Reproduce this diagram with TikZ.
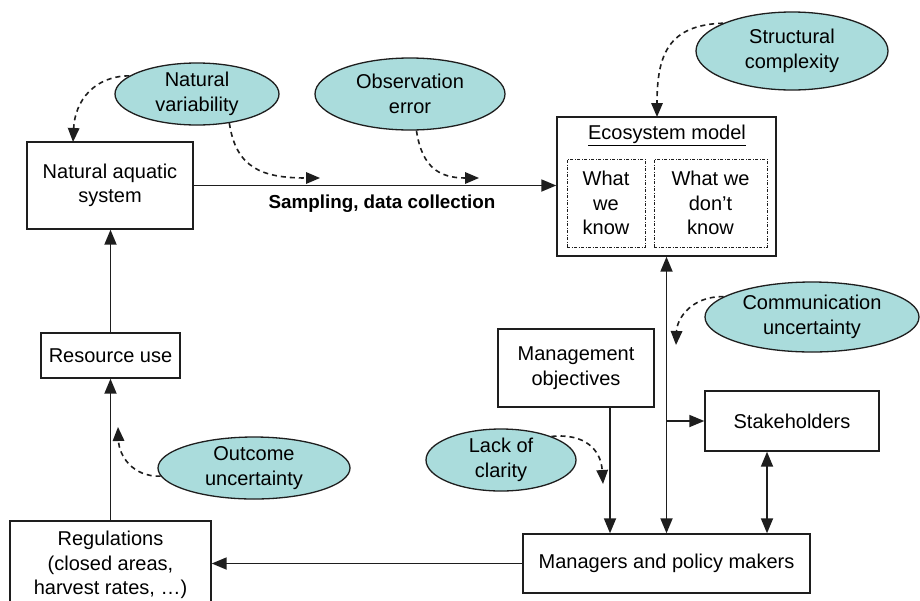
\documentclass[tikz,border=0pt]{standalone}
\usepackage{fontspec}
\setmainfont{Liberation Sans}
\usetikzlibrary{arrows.meta,shapes.geometric}
\definecolor{teal}{RGB}{170,220,220}
\definecolor{ln}{RGB}{30,30,30}
\tikzset{
  every node/.style={font=\fontsize{20}{24.5}\selectfont, text=black},
  boxnode/.style={draw=ln, line width=1.4pt, rectangle, inner sep=0pt, align=center},
  unc/.style={draw=ln, line width=1.3pt, fill=teal, ellipse, inner sep=0pt, align=center},
  inner/.style={draw=ln, line width=1pt, dash pattern=on 3pt off 1.5pt on 1pt off 1.5pt, rectangle, inner sep=0pt, align=center},
  conn/.style={draw=ln, line width=1.8pt, -{Triangle[length=15pt,width=12pt]}},
  dconn/.style={draw=ln, line width=1.8pt, {Triangle[length=15pt,width=12pt]}-{Triangle[length=15pt,width=12pt]}},
  dsh/.style={draw=ln, line width=1.6pt, dash pattern=on 5pt off 4pt, -{Triangle[length=14pt,width=11.5pt]}}
}
\begin{document}
\begin{tikzpicture}[x=1pt,y=-1pt]
\clip (0,0) rectangle (920,600);
\fill[white] (0,0) rectangle (920,600);
% boxes
\node[boxnode, minimum width=166pt, minimum height=87pt] (nas) at (110,185.5) {Natural aquatic\\system};
\node[boxnode, minimum width=139pt, minimum height=45pt] (ru) at (110.5,355.5) {Resource use};
\node[boxnode, minimum width=201pt, minimum height=88pt] (rg) at (110.5,565) {Regulations\\(closed areas,\\harvest rates, \dots)};
\node[boxnode, minimum width=219pt, minimum height=139pt] (em) at (666.5,186.5) {};
\node (emt) at (667,135) {\underline{Ecosystem model}};
\node[inner, minimum width=78pt, minimum height=88pt] (wk) at (606,203) {What\\we\\know};
\node[inner, minimum width=113pt, minimum height=88pt] (wdk) at (710.5,203) {What we\\don’t\\know};
\node[boxnode, minimum width=156pt, minimum height=78pt] (mo) at (576,368) {Management\\objectives};
\node[boxnode, minimum width=174pt, minimum height=60pt] (sh) at (792,421) {Stakeholders};
\node[boxnode, minimum width=287pt, minimum height=59pt] (mp) at (666.5,563.5) {Managers and policy makers};
% uncertainty ellipses
\node[unc, minimum width=164pt, minimum height=62pt] (nv) at (197,94) {Natural\\variability};
\node[unc, minimum width=190pt, minimum height=72pt] (oe) at (410,94) {Observation\\error};
\node[unc, minimum width=192pt, minimum height=78pt] (sc) at (792,51) {Structural\\complexity};
\node[unc, minimum width=214pt, minimum height=70pt] (cu) at (812,317) {Communication\\uncertainty};
\node[unc, minimum width=150pt, minimum height=62pt] (lc) at (501,460) {Lack of\\clarity};
\node[unc, minimum width=192pt, minimum height=62pt] (ou) at (254,468) {Outcome\\uncertainty};
% label
\node[font=\fontsize{18.8}{22}\selectfont\bfseries] (sd) at (382,204) {Sampling, data collection};
% solid connectors
\draw[conn] (nas.east) -- (nas.east -| em.west);
\draw[dconn] (em.south) -- (mp.north);
\draw[conn] (em.south |- sh.west) -- (sh.west);
\draw[dconn] ([xshift=-25pt]sh.south) coordinate (sht) -- (sht |- mp.north);
\draw[conn] ([xshift=34pt]mo.south) coordinate (mot) -- (mot |- mp.north);
\draw[conn] (mp.west) -- (mp.west -| rg.east);
\draw[conn] (rg.north) -- (ru.south);
\draw[conn] (ru.north) -- (ru.north |- nas.south);
% dashed influence arrows
\coordinate (nvt) at (73,142);
\coordinate (nvs) at (320,178);
\coordinate (oes) at (479,178);
\coordinate (sct) at (657,117);
\coordinate (cut) at (676,345);
\coordinate (lct) at (603,484);
\coordinate (out) at (118,427);
\draw[dsh] (nv.165) .. controls (95,76) and (75,100) .. (nvt);
\draw[dsh] (nv.-42) .. controls (236,168) and (262,178) .. (nvs);
\draw[dsh] (oe.-80) .. controls (422,168) and (440,178) .. (oes);
\draw[dsh] (sc.158) .. controls (668,25) and (657,55) .. (sct);
\draw[dsh] (cu.167) .. controls (692,296) and (677,318) .. (cut);
\draw[dsh] (lc.25) .. controls (585,433) and (601,450) .. (lct);
\draw[dsh] (ou.185) .. controls (132,477) and (119,455) .. (out);
\end{tikzpicture}
\end{document}
